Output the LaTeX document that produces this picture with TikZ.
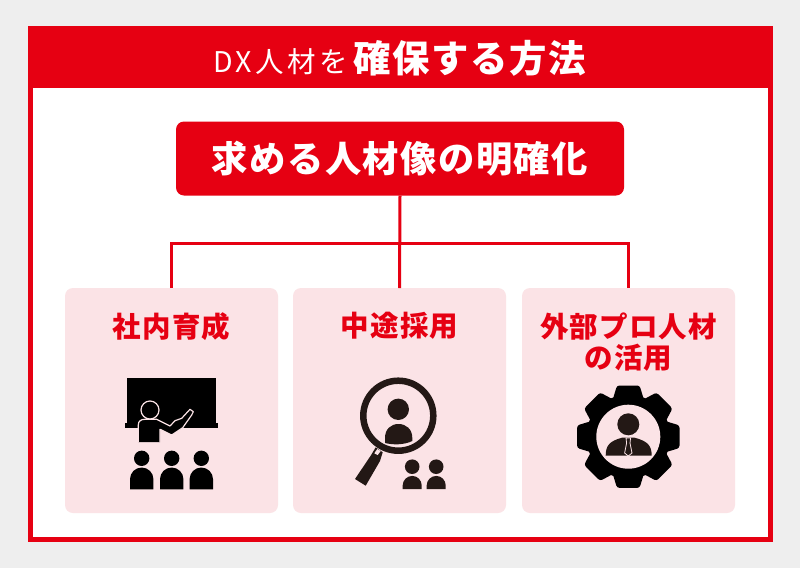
\documentclass[tikz,border=0pt]{standalone}
\usepackage{fontspec}
\setmainfont{Noto Sans CJK JP}
\newfontfamily\cardfont[LetterSpace=4]{Noto Sans CJK JP}
\newfontfamily\leadfont[LetterSpace=12]{Noto Sans CJK JP}
\usepackage{tikz}
\definecolor{dxred}{HTML}{E60012}
\definecolor{dxpink}{HTML}{FBE3E6}
\definecolor{dxgray}{HTML}{EEEEEE}
\definecolor{dxink}{HTML}{231815}
\newcommand{\dxperson}[5]{% x, y, head radius, half width, drop
  \fill (#1,#2) circle (#3);
  \fill (#1-#4,#2+#5) -- (#1-#4,#2+9.2+#4) arc[start angle=180, end angle=360, radius=#4] -- (#1+#4,#2+#5) -- cycle;
}
\tikzset{
  card/.style={fill=dxpink, rounded corners=8pt, minimum width=213pt, minimum height=225pt, anchor=north west, outer sep=0pt},
  cardtitle/.style={text=dxred, font=\cardfont\bfseries\fontsize{28.5}{31}\selectfont, align=center, anchor=north},
  link/.style={draw=dxred, line width=3pt},
}
\begin{document}
\begin{tikzpicture}[x=1pt,y=-1pt]
  \useasboundingbox (0,0) rectangle (800,568);
  \fill [dxgray] (0,0) rectangle (800,568);

  \node [draw=dxred, line width=5pt, fill=white, outer sep=0pt, minimum width=740pt, minimum height=511pt, anchor=north west] (frame) at (30,28.5) {};
  \node [fill=dxred, outer sep=0pt, minimum width=745pt, minimum height=61pt, anchor=north west] (header) at (27.5,26.5) {};
  \node [text=white, anchor=base] (title) at (399.5,72) {\leadfont\fontsize{28.5}{30}\selectfont DX人材を\hspace{6pt}\cardfont\bfseries\fontsize{37.4}{40}\selectfont 確保する方法};

  \node [fill=dxred, rounded corners=8pt, outer sep=0pt, minimum width=448pt, minimum height=74pt, text=white, font=\cardfont\bfseries\fontsize{36.3}{40}\selectfont] (goal) at (400,158.5) {求める人材像の明確化};

  \node [card] (inhouse) at (65,288) {};
  \node [card] (midcareer) at (293,288) {};
  \node [card] (external) at (522,288) {};

  \node [cardtitle] (inhousetitle) at (171.5,309) {社内育成};
  \node [cardtitle] (midcareertitle) at (399.5,309) {中途採用};
  \node [cardtitle] (externaltitle) at (628.5,309) {外部プロ人材\\の活用};

  \coordinate (rail) at (400,243.5);
  \draw [link] (goal.south) -- (midcareer.north);
  \draw [link] (inhouse.north) |- (rail) -| (external.north);

  % teacher and class
  \fill (127.3,378) rectangle (215.7,423);
  \fill (124.7,423) rectangle (218.3,428.3);
  \draw [dxpink, line width=1.2pt, fill=black, line join=round] (138.3,442) -- (138.3,425) .. controls (138.3,421) and (141,419.3) .. (145,419.3) -- (156.7,419.3) -- (170,426) -- (175,420.7) -- (181.7,418.3) -- (190,409.3) -- (193.3,411.7) -- (191.7,415) -- (182.7,427.7) -- (171.7,435) -- (160,429.3) -- (160,442);
  \draw [dxpink, line width=1.2pt, fill=black] (150,410) circle (9);
  \foreach \cx in {141.7,171.7,201.3}
    {\dxperson{\cx}{458.3}{7.7}{11.7}{31}}

  % magnifier
  \draw [dxink, line width=6.5pt] (398.3,415.7) circle (35);
  \fill [dxink] (398.3,409.3) circle (10.7);
  \fill [dxink] (385,443) -- (385,438) .. controls (385,429) and (391,424) .. (398.5,424) .. controls (406,424) and (412.3,429) .. (412.3,438) -- (412.3,441) .. controls (404,445) and (393,445) .. (385,443) -- cycle;
  \fill [dxink] (355,479) -- (365.7,485.7) -- (380,461) -- (382.7,452.3) -- (375.7,447.3) -- (370.7,455.7) -- cycle;
  \fill [dxpink] (377.3,449) -- (380.7,451) -- (377.7,455) -- (374.3,453.3) -- cycle;
  \begin{scope}[dxink]
    \foreach \cx in {412.2,436.2}
      {\dxperson{\cx}{466.7}{7.3}{9.5}{22.3}}
  \end{scope}

  % gear with person
  \fill (628.3,436.7) circle (42);
  \foreach \ang in {0,45,...,315}
    \fill [rotate around={\ang:(628.3,436.7)}, rounded corners=2.5pt] (612,402) -- (617,385.5) -- (639.6,385.5) -- (644.6,402) -- cycle;
  \fill [dxpink] (628.3,436.7) circle (32);
  \fill [dxink] (628.3,424.3) circle (11);
  \fill [dxink] (605.7,455.7) .. controls (605.7,445) and (610,441) .. (622,437.7) -- (634.6,437.7) .. controls (647,441) and (651.7,445) .. (651.7,455.7) -- cycle;
  \draw [dxpink, line width=0.8pt, fill=dxink] (626,438) -- (630.6,438) -- (630,443) -- (632,453) -- (628.3,456) -- (624.6,453) -- (626.6,443) -- cycle;
\end{tikzpicture}
\end{document}
